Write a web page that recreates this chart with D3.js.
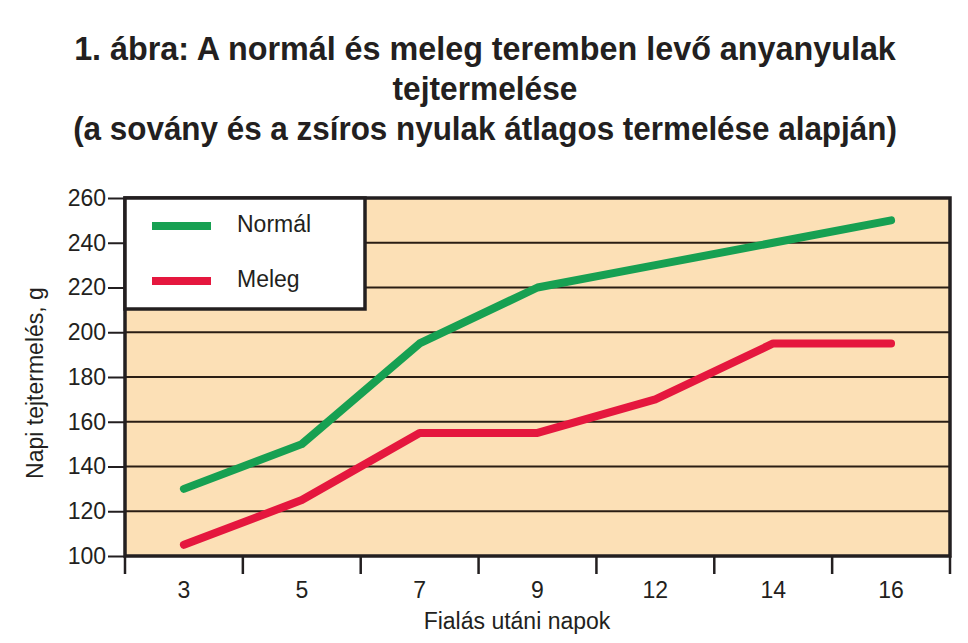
<!DOCTYPE html>
<html>
<head>
<meta charset="utf-8">
<script src="https://cdn.jsdelivr.net/npm/d3@7"></script>
<style>
  body { margin: 0; background: #fff; }
  svg { display: block; }
</style>
</head>
<body>
<div id="chart"></div>
<script>
// chart data
var titleLines = [
    "1. ábra: A normál és meleg teremben levő anyanyulak",
    "tejtermelése",
    "(a sovány és a zsíros nyulak átlagos termelése alapján)"
];
var days = ["3", "5", "7", "9", "12", "14", "16"];
var normal = [130, 150, 195, 220, 230, 240, 250];
var meleg = [105, 125, 155, 155, 170, 195, 195];
var yTicks = [100, 120, 140, 160, 180, 200, 220, 240, 260];
var seriesNames = ["Normál", "Meleg"];
var seriesColors = ["#17a052", "#e5173e"];

function main(){
    var W = 968, H = 643;
    var margin = {top: 198, right: 18, bottom: 87, left: 125},
        width = W - margin.left - margin.right,
        height = H - margin.top - margin.bottom;

    var svg = d3.select("#chart")
        .append("svg")
            .attr("width", W)
            .attr("height", H);

    // title: squeezed horizontally to the reference width
    var titleY = [48, 88, 128];
    var titleW = [822, 185, 824];
    titleLines.forEach(function(t, i){
        var tg = svg.append("g")
            .attr("transform", "translate(485," + (titleY[i] + 12) + ")");
        var txt = tg.append("text")
            .attr("x", 0)
            .attr("y", 0)
            .attr("text-anchor", "middle")
            .style("font-family", "'Liberation Sans Narrow', 'Liberation Sans', Arial, sans-serif")
            .style("font-weight", "bold")
            .style("font-size", "34px")
            .style("fill", "#231f20")
            .text(t);
        var natural = txt.node().getComputedTextLength();
        var sx = titleW[i] / natural;
        tg.attr("transform", "translate(485," + (titleY[i] + 12) + ")scale(" + sx + ",1)");
    });

    var g = svg.append("g")
        .attr("transform", "translate(" + margin.left + "," + margin.top + ")");

    var xScale = d3.scaleBand().range([0, width]).domain(days);
    var yScale = d3.scaleLinear().range([height, 0]).domain([100, 260]);

    // plot background
    g.append("rect")
        .attr("width", width)
        .attr("height", height)
        .attr("fill", "#fce0b6");

    // grid lines
    g.selectAll(".grid")
        .data(yTicks)
        .enter().append("line")
        .attr("x1", 0)
        .attr("x2", width)
        .attr("y1", function(d){ return yScale(d); })
        .attr("y2", function(d){ return yScale(d); })
        .attr("stroke", "#2a1e14")
        .attr("stroke-width", 2);

    // y axis
    var yAxis = g.append("g")
        .call(d3.axisLeft(yScale).tickValues(yTicks).tickSize(17).tickPadding(2));
    yAxis.select(".domain").remove();
    yAxis.selectAll("line").attr("stroke", "#231f20").attr("stroke-width", 2);
    yAxis.selectAll("text")
        .style("font-family", "'Liberation Sans', Arial, sans-serif")
        .style("font-size", "23px")
        .style("fill", "#231f20");

    // x axis: ticks on band edges, labels at band centres
    var xAxis = g.append("g")
        .attr("transform", "translate(0," + height + ")");
    var edges = days.map(function(d){ return xScale(d); }).concat([width]);
    xAxis.selectAll("line")
        .data(edges)
        .enter().append("line")
        .attr("x1", function(d){ return d; })
        .attr("x2", function(d){ return d; })
        .attr("y1", 0)
        .attr("y2", 18)
        .attr("stroke", "#231f20")
        .attr("stroke-width", 2.5);
    xAxis.selectAll("text")
        .data(days)
        .enter().append("text")
        .attr("x", function(d){ return xScale(d) + xScale.bandwidth() / 2; })
        .attr("y", 42)
        .attr("text-anchor", "middle")
        .style("font-family", "'Liberation Sans', Arial, sans-serif")
        .style("font-size", "23px")
        .style("fill", "#231f20")
        .text(function(d){ return d; });

    // lines
    var line = d3.line()
        .x(function(d, i){ return xScale(days[i]) + xScale.bandwidth() / 2; })
        .y(function(d){ return yScale(d); });

    [normal, meleg].forEach(function(s, i){
        g.append("path")
            .datum(s)
            .attr("d", line)
            .attr("fill", "none")
            .attr("stroke", seriesColors[i])
            .attr("stroke-width", 8)
            .attr("stroke-linejoin", "round")
            .attr("stroke-linecap", "round");
    });

    // frame
    g.append("rect")
        .attr("width", width)
        .attr("height", height)
        .attr("fill", "none")
        .attr("stroke", "#231f20")
        .attr("stroke-width", 3.5);

    // legend
    var leg = g.append("g");
    leg.append("rect")
        .attr("x", 0)
        .attr("y", 0)
        .attr("width", 240)
        .attr("height", 111)
        .attr("fill", "#fff")
        .attr("stroke", "#231f20")
        .attr("stroke-width", 3.5);
    seriesNames.forEach(function(n, i){
        var yy = 28 + i * 55;
        leg.append("line")
            .attr("x1", 27)
            .attr("x2", 86)
            .attr("y1", yy)
            .attr("y2", yy)
            .attr("stroke", seriesColors[i])
            .attr("stroke-width", 8);
        leg.append("text")
            .attr("x", 112)
            .attr("y", yy + 6)
            .style("font-family", "'Liberation Sans', Arial, sans-serif")
            .style("font-size", "23px")
            .style("fill", "#231f20")
            .text(n);
    });

    // axis titles
    svg.append("text")
        .attr("transform", "translate(43," + 383 + ")rotate(-90)")
        .attr("text-anchor", "middle")
        .style("font-family", "'Liberation Sans', Arial, sans-serif")
        .style("font-size", "23px")
        .style("fill", "#231f20")
        .text("Napi tejtermelés, g");

    svg.append("text")
        .attr("x", 517)
        .attr("y", 629)
        .attr("text-anchor", "middle")
        .style("font-family", "'Liberation Sans', Arial, sans-serif")
        .style("font-size", "23px")
        .style("fill", "#231f20")
        .text("Fialás utáni napok");
}
main();
</script>
</body>
</html>
